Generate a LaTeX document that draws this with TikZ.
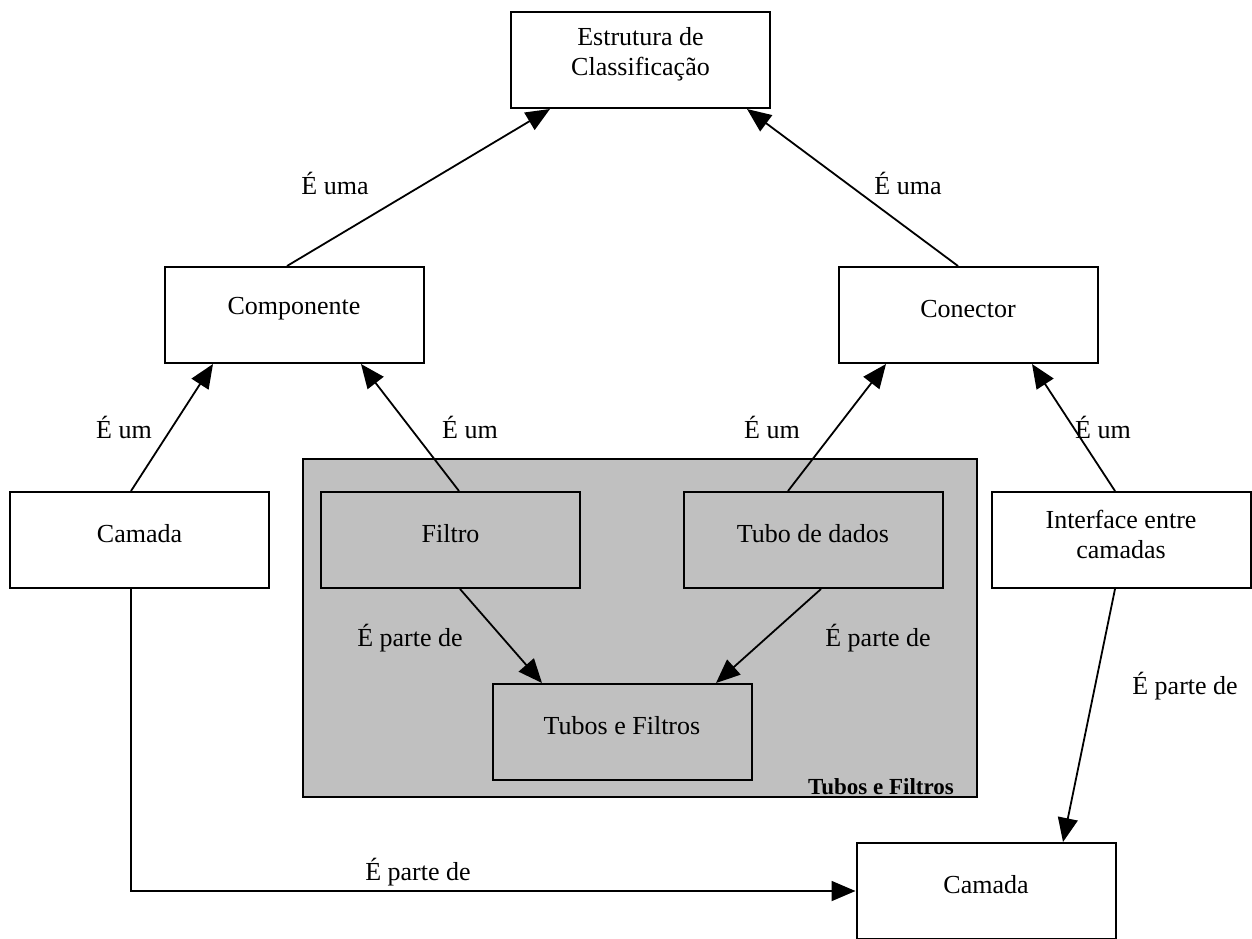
\documentclass[tikz,border=0pt]{standalone}
\usepackage{fontspec}
\setmainfont{Liberation Serif}
\usetikzlibrary{arrows.meta}
\definecolor{boxgray}{RGB}{192,192,192}
\begin{document}
\begin{tikzpicture}[x=1pt,y=-1pt,
  box/.style={draw, line width=2pt, minimum width=259pt, minimum height=96pt, inner sep=0pt},
  panel/.style={draw, line width=2pt, fill=boxgray, inner sep=0pt},
  txt/.style={font=\fontsize{26}{30}\selectfont, align=center, inner sep=0pt},
  lbl/.style={font=\fontsize{26}{30}\selectfont, inner sep=0pt},
  title/.style={font=\bfseries\fontsize{23}{26}\selectfont, inner sep=0pt},
  link/.style={line width=1.8pt, -{Triangle[length=24pt,width=20pt]}}
]
\useasboundingbox (0,0) rectangle (1252,938);

% grey frame holding the pipes-and-filters style
\node[panel, minimum width=674pt, minimum height=338pt] (grp) at (640,628) {};
\node[title, anchor=south east] (grptitle) at ([xshift=-24pt,yshift=3pt]grp.south east) {Tubos e Filtros};

% boxes
\node[box] (est)   at (640.5,60)  {};
\node[box] (comp)  at (294,315)   {};
\node[box] (con)   at (968,315)   {};
\node[box] (camL)  at (139.5,540) {};
\node[box] (filt)  at (450.5,540) {};
\node[box] (tubo)  at (813,540)   {};
\node[box] (iface) at (1121,540)  {};
\node[box] (tf)    at (622,732)   {};
\node[box] (camB)  at (986,891)   {};

% box texts, set a little above the middle
\node[txt] (est-t)   at ([yshift=6pt]est.center)   {Estrutura de\\Classificação};
\node[txt] (comp-t)  at ([yshift=6pt]comp.center)  {Componente};
\node[txt] (con-t)   at ([yshift=6pt]con.center)   {Conector};
\node[txt] (camL-t)  at ([yshift=6pt]camL.center)  {Camada};
\node[txt] (filt-t)  at ([yshift=6pt]filt.center)  {Filtro};
\node[txt] (tubo-t)  at ([yshift=6pt]tubo.center)  {Tubo de dados};
\node[txt] (iface-t) at ([yshift=6pt]iface.center) {Interface entre\\camadas};
\node[txt] (tf-t)    at ([yshift=6pt]tf.center)    {Tubos e Filtros};
\node[txt] (camB-t)  at ([yshift=6pt]camB.center)  {Camada};

% generalisation links
\draw[link] ([xshift=-7pt]comp.north)  -- ([xshift=-90.5pt]est.south);
\draw[link] ([xshift=-10pt]con.north)  -- ([xshift=106.5pt]est.south);
\draw[link] ([xshift=-8.5pt]camL.north) -- ([xshift=-81pt]comp.south);
\draw[link] ([xshift=8.5pt]filt.north)  -- ([xshift=67pt]comp.south);
\draw[link] ([xshift=-25pt]tubo.north) -- ([xshift=-82pt]con.south);
\draw[link] ([xshift=-6pt]iface.north) -- ([xshift=64pt]con.south);

% part-of links
\draw[link] ([xshift=9.5pt]filt.south) -- ([xshift=-80pt]tf.north);
\draw[link] ([xshift=8pt]tubo.south)   -- ([xshift=94pt]tf.north);
\draw[link] ([xshift=-6pt]iface.south) -- ([xshift=77pt]camB.north);
\draw[link] ([xshift=-8.5pt]camL.south) |- (camB.west);

% link labels
\node[lbl] (l1)  at (335,183)  {É uma};
\node[lbl] (l2)  at (908,183)  {É uma};
\node[lbl] (l3)  at (124,427)  {É um};
\node[lbl] (l4)  at (470,427)  {É um};
\node[lbl] (l5)  at (772,427)  {É um};
\node[lbl] (l6)  at (1103,427) {É um};
\node[lbl] (l7)  at (410,638)  {É parte de};
\node[lbl] (l8)  at (878,638)  {É parte de};
\node[lbl] (l9)  at (1185,686) {É parte de};
\node[lbl] (l10) at (418,872)  {É parte de};
\end{tikzpicture}
\end{document}
